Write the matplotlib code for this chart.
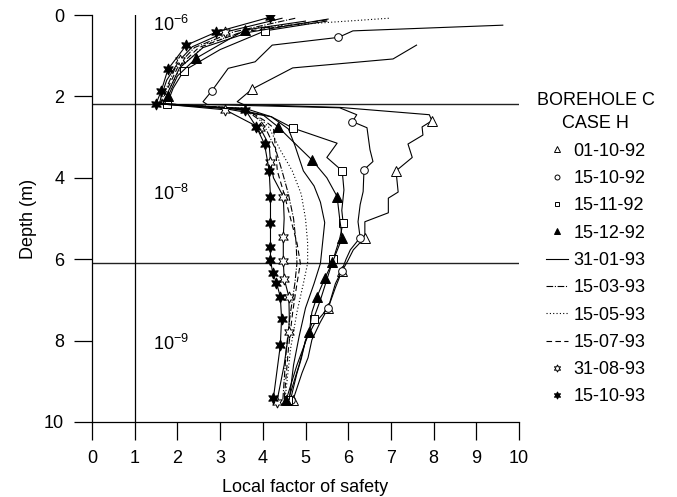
import matplotlib
matplotlib.use("Agg")
import matplotlib.pyplot as plt
from matplotlib.lines import Line2D

plt.rcParams['font.family'] = ['Liberation Sans', 'DejaVu Sans']
plt.rcParams['mathtext.fontset'] = 'custom'
plt.rcParams['mathtext.rm'] = 'Liberation Sans'

# ---------------- data ----------------
dates = ['01-10-92', '15-10-92', '15-11-92', '15-12-92', '31-01-93',
         '15-03-93', '15-05-93', '15-07-93', '31-08-93', '15-10-93']

fs_0110_92 = [7.60, 7.05, 4.70, 3.75, 3.40, 3.55, 5.80, 7.90, 7.96, 7.73, 7.75, 7.40, 7.50, 7.12,
              7.17, 6.94, 6.94, 6.39, 6.39, 6.12, 5.98, 5.85, 5.70, 5.53, 5.34, 5.15, 5.06, 4.92, 4.71]
d_0110_92 = [0.74, 1.08, 1.30, 1.82, 2.13, 2.20, 2.27, 2.45, 2.60, 2.75, 2.95, 3.17, 3.50, 3.83,
             4.35, 4.50, 4.86, 5.08, 5.47, 5.77, 6.06, 6.30, 6.70, 7.20, 7.56, 7.98, 8.42, 8.79, 9.45]

fs_1510_92 = [9.62, 6.11, 5.77, 4.22, 3.82, 3.19, 2.81, 2.60, 2.70, 5.80, 6.20, 6.10, 6.44, 6.51, 6.58,
              6.37, 6.35, 6.28, 6.23, 6.28, 6.05, 5.95, 5.85, 5.70, 5.53, 5.20, 5.00, 4.90, 4.80, 4.65]
d_1510_92 = [0.25, 0.39, 0.55, 0.74, 1.15, 1.31, 1.86, 2.13, 2.20, 2.28, 2.45, 2.62, 2.77, 3.31, 3.60,
             3.80, 4.34, 4.66, 5.08, 5.47, 5.77, 6.00, 6.28, 6.60, 7.20, 7.60, 8.00, 8.45, 8.80, 9.45]

fs_1511_92 = [5.50, 4.05, 3.00, 2.15, 1.90, 1.76, 3.00, 4.20, 4.71, 5.74, 5.50, 5.86, 5.90, 5.85,
              5.88, 5.80, 5.65, 5.50, 5.35, 5.19, 5.00, 4.85, 4.60]
d_1511_92 = [0.15, 0.39, 0.85, 1.37, 1.80, 2.18, 2.28, 2.50, 2.78, 3.15, 3.50, 3.83, 4.30, 4.80,
             5.10, 5.50, 6.00, 6.50, 7.00, 7.46, 8.00, 8.60, 9.45]

fs_1512_92 = [5.00, 3.58, 2.44, 2.00, 1.78, 1.70, 3.30, 4.00, 4.36, 4.60, 5.15, 5.50, 5.74, 5.80,
              5.86, 5.63, 5.46, 5.27, 5.15, 5.09, 4.80, 4.55]
d_1512_92 = [0.15, 0.37, 1.06, 1.50, 2.00, 2.18, 2.30, 2.45, 2.75, 3.00, 3.56, 4.00, 4.46, 5.00,
             5.47, 6.08, 6.45, 6.92, 7.30, 7.78, 8.60, 9.45]

fs_3101_93 = [5.53, 3.70, 2.60, 2.05, 1.80, 1.66, 3.60, 4.20, 4.60, 4.75, 4.95, 5.20, 5.35, 5.45,
              5.40, 5.35, 5.20, 5.00, 4.85, 4.72, 4.62]
d_3101_93 = [0.10, 0.42, 0.80, 1.30, 1.85, 2.18, 2.30, 2.50, 2.80, 3.20, 3.83, 4.20, 4.60, 5.10,
             5.60, 6.10, 6.60, 7.20, 7.90, 8.60, 9.45]

fs_1503_93 = [4.76, 3.30, 2.40, 1.95, 1.72, 1.60, 3.55, 3.95, 4.06, 4.30, 4.45, 4.60, 4.72, 4.78,
              4.80, 4.75, 4.65, 4.55, 4.47]
d_1503_93 = [0.08, 0.42, 0.80, 1.30, 1.85, 2.18, 2.30, 2.60, 2.77, 3.30, 3.83, 4.40, 5.00, 5.60,
             6.10, 6.60, 7.30, 8.20, 9.45]

fs_1505_93 = [6.95, 3.90, 2.70, 2.10, 1.80, 1.65, 3.60, 4.00, 4.15, 4.40, 4.69, 4.90, 5.00, 5.05,
              5.05, 4.95, 4.80, 4.65, 4.52]
d_1505_93 = [0.08, 0.30, 0.70, 1.25, 1.85, 2.18, 2.30, 2.60, 2.77, 3.30, 3.83, 4.40, 5.00, 5.60,
             6.10, 6.60, 7.30, 8.20, 9.45]

fs_1507_93 = [5.50, 3.50, 2.50, 2.00, 1.75, 1.62, 3.58, 4.05, 4.25, 4.30, 4.34, 4.50, 4.65, 4.80,
              4.88, 4.80, 4.70, 4.60, 4.50]
d_1507_93 = [0.12, 0.42, 0.80, 1.30, 1.85, 2.18, 2.30, 2.60, 2.77, 3.30, 3.83, 4.40, 5.00, 5.60,
             6.10, 6.60, 7.30, 8.20, 9.45]

fs_3108_93 = [4.45, 3.12, 2.35, 2.06, 1.75, 1.62, 1.58, 3.12, 3.94, 4.15, 4.18, 4.25, 4.48, 4.50,
              4.48, 4.48, 4.50, 4.61, 4.62, 4.61, 4.50, 4.33]
d_3108_93 = [0.08, 0.42, 0.78, 1.10, 1.60, 2.00, 2.18, 2.33, 2.78, 3.20, 3.60, 4.00, 4.46, 5.00,
             5.45, 6.04, 6.48, 6.92, 7.40, 7.78, 8.60, 9.50]

fs_1510_93 = [4.18, 2.91, 2.21, 1.78, 1.62, 1.50, 3.59, 3.85, 4.04, 4.15, 4.18, 4.18, 4.18, 4.18,
              4.23, 4.32, 4.41, 4.44, 4.41, 4.25]
d_1510_93 = [0.05, 0.42, 0.74, 1.33, 1.87, 2.18, 2.33, 2.75, 3.17, 3.83, 4.47, 5.10, 5.69, 6.01,
             6.33, 6.58, 6.92, 7.46, 8.12, 9.40]

layer_bounds = [2.18, 6.10]
layer_labels = ['10^{-6}', '10^{-8}', '10^{-9}']
layer_label_depths = [0.39, 4.54, 8.22]

xs = [fs_0110_92, fs_1510_92, fs_1511_92, fs_1512_92, fs_3101_93,
      fs_1503_93, fs_1505_93, fs_1507_93, fs_3108_93, fs_1510_93]
ds = [d_0110_92, d_1510_92, d_1511_92, d_1512_92, d_3101_93,
      d_1503_93, d_1505_93, d_1507_93, d_3108_93, d_1510_93]

# ---------------- styles ----------------
star = (6, 1, 0)
styles = [
    dict(marker='^', ms=7, mfc='white', markevery=[3, 8, 13, 18, 21, 23, 28]),
    dict(marker='o', ms=5.5, mfc='white', markevery=[2, 6, 11, 15, 19, 22, 24, 29]),
    dict(marker='s', ms=5.5, mfc='white', markevery=[1, 3, 5, 8, 11, 14, 16, 19, 22]),
    dict(marker='^', ms=7, mfc='black', markevery=[1, 2, 4, 8, 10, 12, 14, 15, 16, 17, 19, 21]),
    dict(ls='-'),
    dict(ls=(0, (6, 1.5, 1, 1.5))),
    dict(ls=(0, (1, 2))),
    dict(ls=(0, (5, 3))),
    dict(marker=star, ms=8, mfc='white', markevery=[1, 3, 7, 8, 10, 12, 14, 15, 16, 17, 19, 21]),
    dict(marker=star, ms=8, mfc='black', markevery=None),
]

fig = plt.figure(figsize=(6.77, 4.97), dpi=100)
ax = fig.add_axes([92 / 677, 1 - 422 / 497, (519 - 92) / 677, (422 - 15) / 497])

handles = []
for x, d, st, lab in zip(xs, ds, styles, dates):
    st = dict(st)
    ls = st.pop('ls', '-')
    ax.plot(x, d, color='black', lw=0.8, ls=ls, mec='black', mew=0.7, **st)
    if 'marker' in st:
        handles.append(Line2D([], [], ls='none', color='black', marker=st['marker'],
                              ms=st['ms'] * 0.65, mfc=st['mfc'], mec='black', mew=0.7))
    else:
        handles.append(Line2D([], [], ls=ls, color='black', lw=0.8))

for b in layer_bounds:
    ax.axhline(b, color='#222222', lw=1.0, zorder=0)
ax.axvline(1, color='black', lw=0.9, zorder=0)

for lab, dd in zip(layer_labels, layer_label_depths):
    ax.text(1.43, dd, r'$\mathregular{' + lab + '}$', fontsize=13, va='baseline', ha='left')

ax.set_xlim(0, 10)
ax.set_ylim(10, 0)
ax.set_xticks(range(0, 11))
ax.set_yticks(range(0, 11, 2))
ax.spines['top'].set_visible(False)
ax.spines['right'].set_visible(False)
for s in ('left', 'bottom'):
    ax.spines[s].set_linewidth(0.9)
ax.tick_params(direction='out', length=13, width=0.9, labelsize=13, pad=7)
ax.set_xlabel('Local factor of safety', fontsize=13, labelpad=9)
ax.set_ylabel('Depth (m)', fontsize=13, labelpad=5)

leg = fig.legend(handles, dates, loc='upper left', bbox_to_anchor=(537 / 677, 1 - 92 / 497),
                 frameon=False, fontsize=13, title='BOREHOLE C\nCASE H', title_fontsize=13,
                 handlelength=1.2, handletextpad=0.3, labelspacing=0.57,
                 borderpad=0, borderaxespad=0)
leg.get_title().set_multialignment('center')
leg.get_title().set_linespacing(1.5)

fig.savefig('out.png', dpi=100)
